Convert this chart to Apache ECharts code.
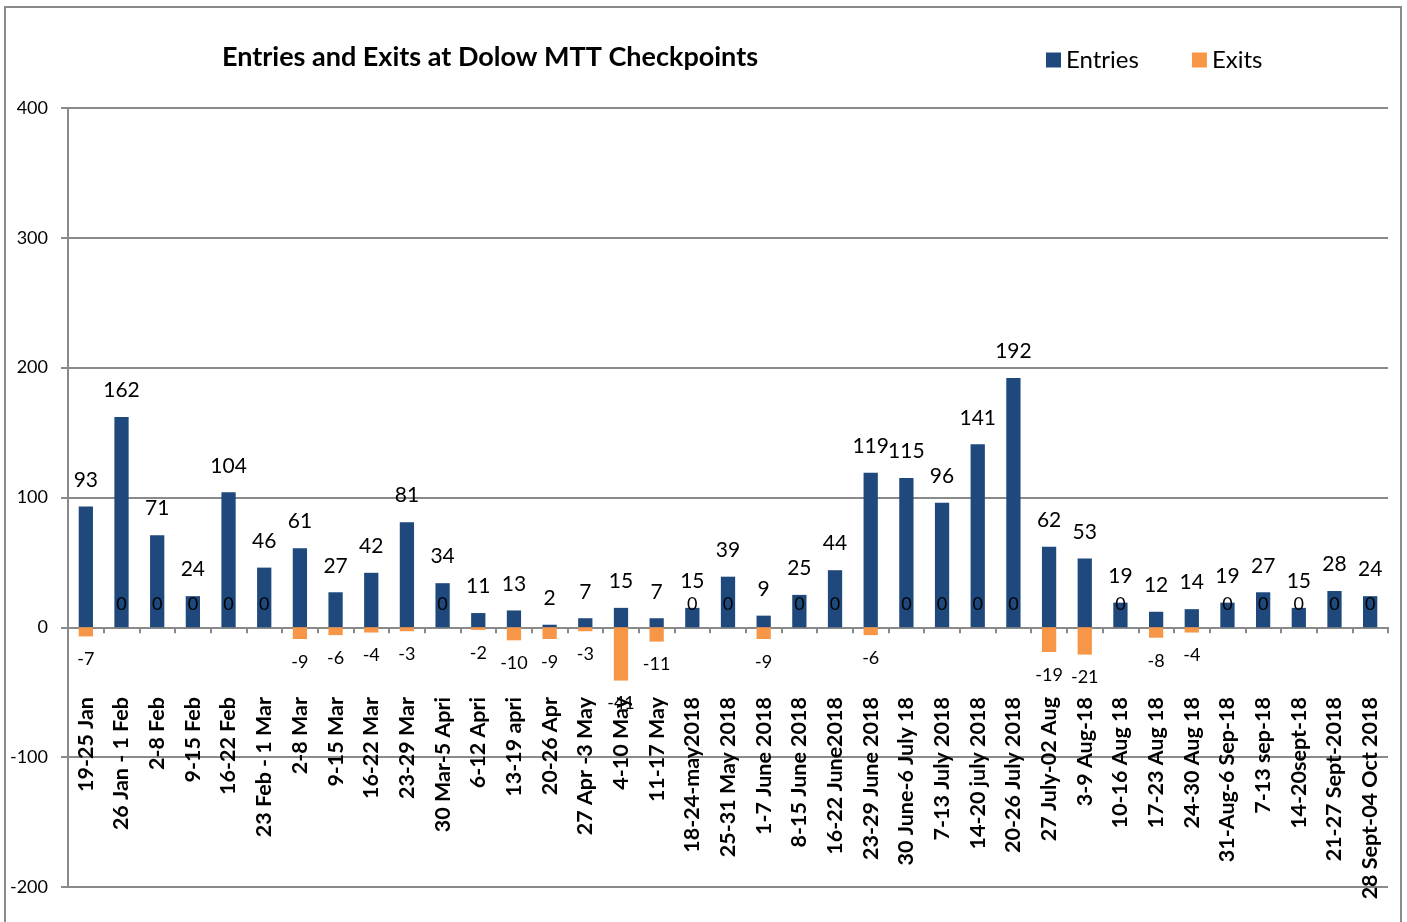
<!DOCTYPE html>
<html>
<head>
<meta charset="utf-8">
<script src="https://cdn.jsdelivr.net/npm/echarts@6/dist/echarts.min.js"></script>
<style>
	html, body { margin: 0; padding: 0; background: #fff; }
	#chart { width: 1407px; height: 922px; }
</style>
</head>
<body>
<div id="chart"></div>
<script>
var weeks = ['19-25 Jan', '26 Jan - 1 Feb', '2-8 Feb', '9-15 Feb', '16-22 Feb', '23 Feb - 1 Mar',
	'2-8 Mar', '9-15 Mar', '16-22 Mar', '23-29 Mar', '30 Mar-5 Apri', '6-12 Apri', '13-19 apri',
	'20-26 Apr', '27 Apr -3 May', '4-10 May', '11-17 May', '18-24-may2018', '25-31 May 2018',
	'1-7 June 2018', '8-15 June 2018', '16-22 June2018', '23-29 June 2018', '30 June-6 July 18',
	'7-13 July 2018', '14-20 july 2018', '20-26 July 2018', '27 July-02 Aug', '3-9 Aug-18',
	'10-16 Aug 18', '17-23 Aug 18', '24-30 Aug 18', '31-Aug-6 Sep-18', '7-13 sep-18',
	'14-20sept-18', '21-27 Sept-2018', '28 Sept-04 Oct 2018'];

var entries = [93, 162, 71, 24, 104, 46, 61, 27, 42, 81, 34, 11, 13, 2, 7, 15, 7, 15, 39,
	9, 25, 44, 119, 115, 96, 141, 192, 62, 53, 19, 12, 14, 19, 27, 15, 28, 24];

var exits = [-7, 0, 0, 0, 0, 0, -9, -6, -4, -3, 0, -2, -10, -9, -3, -41, -11, 0, 0,
	-9, 0, 0, -6, 0, 0, 0, 0, -19, -21, 0, -8, -4, 0, 0, 0, 0, 0];

var yTicks = [-200, -100, 0, 100, 200, 300, 400];

var font = 'Lato, "Open Sans", sans-serif';

var chart = echarts.init(document.getElementById('chart'));

// exits: negative labels go under the bar end, zeros sit above the line
var exitData = exits.map(function(v) {
	return {
		value: v,
		label: { position: v < 0 ? 'bottom' : 'top' }
	};
});

chart.setOption({
	animation: false,
	color: ['#1F497D', '#F79646'],
	graphic: [{
		type: 'rect',
		shape: { x: 5, y: 7, width: 1396, height: 940 },
		style: { fill: 'none', stroke: '#8a8a8a', lineWidth: 2 },
		silent: true
	}],
	title: {
		text: 'Entries and Exits at Dolow MTT Checkpoints',
		left: 485,
		textAlign: 'center',
		top: 39,
		textStyle: {
			fontFamily: font,
			fontWeight: 'bold',
			fontSize: 27,
			color: '#000'
		}
	},
	legend: {
		left: 1041,
		top: 43,
		icon: 'rect',
		itemWidth: 15,
		itemHeight: 15,
		itemGap: 53,
		textStyle: {
			fontFamily: font,
			fontSize: 24,
			color: '#000'
		},
		data: ['Entries', 'Exits']
	},
	grid: {
		left: 68,
		right: 19,
		top: 108,
		bottom: 35,
		containLabel: false,
		outerBoundsMode: 'none'
	},
	xAxis: {
		type: 'category',
		data: weeks,
		axisLine: {
			onZero: true,
			lineStyle: { color: '#8a8a8a', width: 2 }
		},
		axisTick: {
			show: true,
			length: 6,
			lineStyle: { color: '#8a8a8a', width: 2 }
		},
		axisLabel: {
			interval: 0,
			rotate: 90,
			margin: -190,
			fontFamily: font,
			fontWeight: 'bold',
			fontSize: 21.5,
			color: '#000'
		},
		splitLine: { show: false }
	},
	yAxis: {
		type: 'value',
		min: yTicks[0],
		max: yTicks[yTicks.length - 1],
		interval: 100,
		axisLine: {
			show: true,
			lineStyle: { color: '#8a8a8a', width: 2 }
		},
		axisTick: {
			show: true,
			length: 7,
			lineStyle: { color: '#8a8a8a', width: 2 }
		},
		axisLabel: {
			margin: 20,
			fontFamily: font,
			fontSize: 18,
			color: '#000'
		},
		splitLine: {
			lineStyle: { color: '#8a8a8a', width: 2 }
		}
	},
	series: [{
			name: 'Entries',
			type: 'bar',
			barWidth: '40%',
			barGap: '-100%',
			data: entries,
			label: {
				show: true,
				position: 'top',
				distance: 16,
				fontFamily: font,
				fontSize: 21,
				color: '#000'
			}
		},
		{
			name: 'Exits',
			type: 'bar',
			barWidth: '40%',
			barGap: '-100%',
			data: exitData,
			label: {
				show: true,
				distance: 14,
				fontFamily: font,
				fontSize: 18,
				color: '#000'
			}
		}
	]
});
</script>
</body>
</html>
